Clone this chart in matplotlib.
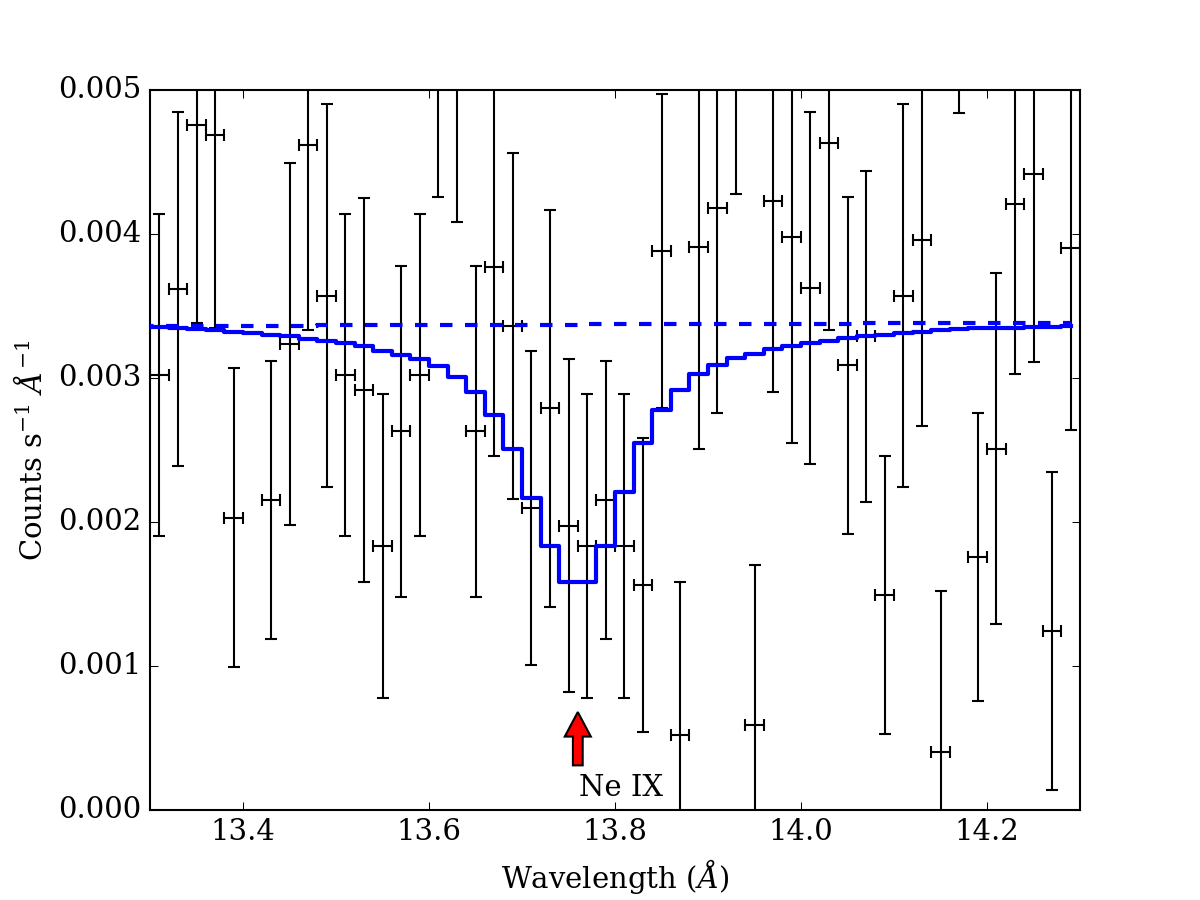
import numpy as np
import matplotlib
matplotlib.use("Agg")
import matplotlib.pyplot as plt
from matplotlib.ticker import MultipleLocator, FormatStrFormatter

plt.style.use('classic')
plt.rcParams['font.family'] = ['DejaVu Serif']
plt.rcParams['mathtext.fontset'] = 'dejavuserif'
plt.rcParams['font.size'] = 14

# Data bin centres (Angstrom)
wave = [13.31, 13.33, 13.35, 13.37, 13.39, 13.41, 13.43, 13.45, 13.47, 13.49,
        13.51, 13.53, 13.55, 13.57, 13.59, 13.61, 13.63, 13.65, 13.67, 13.69,
        13.71, 13.73, 13.75, 13.77, 13.79, 13.81, 13.83, 13.85, 13.87, 13.89,
        13.91, 13.93, 13.95, 13.97, 13.99, 14.01, 14.03, 14.05, 14.07, 14.09,
        14.11, 14.13, 14.15, 14.17, 14.19, 14.21, 14.23, 14.25, 14.27, 14.29]

# Observed counts (units of 1e-3 counts/s/A)
counts = [3.02, 3.62, 4.76, 4.69, 2.03, 6.60, 2.155, 3.235, 4.62, 3.57,
          3.02, 2.915, 1.835, 2.63, 3.02, 5.60, 5.45, 2.63, 3.77, 3.36,
          2.10, 2.79, 1.975, 1.835, 2.155, 1.835, 1.56, 3.88, 0.52, 3.91,
          4.18, 5.70, 0.59, 4.23, 3.98, 3.625, 4.63, 3.09, 3.29, 1.495,
          3.57, 3.96, 0.40, 6.10, 1.76, 2.51, 4.21, 4.42, 1.245, 3.90]

# 1-sigma errors (units of 1e-3)
errors = [1.12, 1.23, 1.38, 1.34, 1.04, 1.45, 0.965, 1.255, 1.29, 1.33,
          1.12, 1.335, 1.055, 1.15, 1.12, 1.34, 1.37, 1.15, 1.31, 1.20,
          1.09, 1.38, 1.155, 1.055, 0.965, 1.055, 1.02, 1.09, 1.06, 1.40,
          1.42, 1.42, 1.11, 1.33, 1.43, 1.225, 1.30, 1.17, 1.15, 0.965,
          1.33, 1.29, 1.12, 1.26, 1.00, 1.22, 1.18, 1.31, 1.105, 1.26]

half_bin = 0.01

# Model bin centres
model_wave = [13.29] + wave

# Absorbed model (units of 1e-3)
model = [3.36, 3.355, 3.35, 3.34, 3.33, 3.32, 3.31, 3.30, 3.29, 3.27, 3.255,
         3.24, 3.22, 3.19, 3.16, 3.13, 3.08, 3.01, 2.90, 2.74, 2.51,
         2.17, 1.83, 1.58, 1.58, 1.83, 2.21, 2.55, 2.78, 2.92, 3.03,
         3.09, 3.14, 3.17, 3.20, 3.22, 3.24, 3.26, 3.275, 3.29, 3.30,
         3.31, 3.32, 3.33, 3.34, 3.345, 3.35, 3.35, 3.355, 3.355, 3.36]

# Continuum model (units of 1e-3)
continuum = [3.360, 3.360, 3.361, 3.361, 3.362, 3.362, 3.363, 3.363, 3.364, 3.364, 3.365,
             3.365, 3.366, 3.366, 3.367, 3.367, 3.368, 3.368, 3.369, 3.369, 3.370,
             3.370, 3.371, 3.371, 3.372, 3.372, 3.373, 3.373, 3.374, 3.374, 3.375,
             3.375, 3.376, 3.376, 3.377, 3.377, 3.378, 3.378, 3.378, 3.379, 3.379,
             3.379, 3.380, 3.380, 3.380, 3.380, 3.381, 3.381, 3.381, 3.381, 3.382]

scale = 1e-3
line_wave = 13.76
line_label = "Ne IX"

fig = plt.figure(figsize=(8, 6), dpi=150, facecolor='white')
ax = fig.add_subplot(111)

ax.errorbar(wave, np.array(counts) * scale, yerr=np.array(errors) * scale,
            xerr=half_bin, fmt='none', ecolor='k', elinewidth=1.0, capsize=3,
            capthick=1.0, zorder=2)

ax.plot(model_wave, np.array(continuum) * scale, color='blue', lw=2,
        ls='--', drawstyle='steps-mid', zorder=3)
ax.plot(model_wave, np.array(model) * scale, color='blue', lw=2,
        drawstyle='steps-mid', zorder=4)

ax.arrow(line_wave, 0.00031, 0, 0.00037, width=0.0105, head_width=0.028,
         head_length=0.00017, length_includes_head=True, fc='red', ec='black',
         lw=1.0, zorder=5)
ax.text(line_wave + 0.001, 0.0001, line_label, ha='left', va='baseline')

ax.set_xlim(13.3, 14.3)
ax.set_ylim(0, 0.005)
ax.xaxis.set_major_locator(MultipleLocator(0.2))
ax.yaxis.set_major_locator(MultipleLocator(0.001))
ax.yaxis.set_major_formatter(FormatStrFormatter('%.3f'))
ax.xaxis.set_major_formatter(FormatStrFormatter('%.1f'))

ax.set_xlabel(r"Wavelength ($\AA$)")
ax.set_ylabel(r"Counts s$^{-1}$ $\AA^{-1}$")

fig.savefig("out.png", dpi=150, facecolor='white')
